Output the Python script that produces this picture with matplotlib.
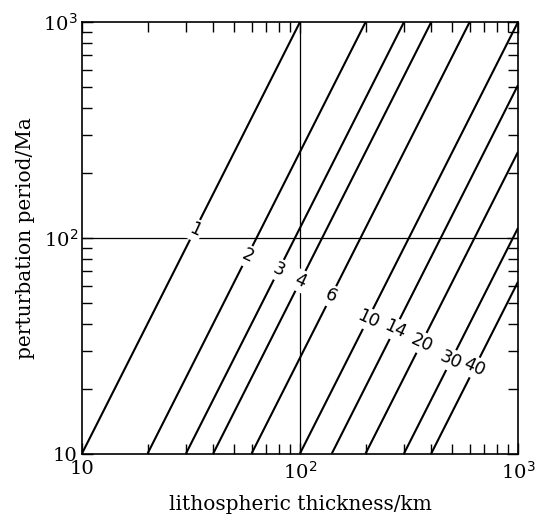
import matplotlib
matplotlib.use("Agg")
import matplotlib.pyplot as plt
import numpy as np

# curve labels
labels = ["1", "2", "3", "4", "6", "10", "14", "20", "30", "40"]
# start point of each line (lithospheric thickness at period 10 Ma)
x_start = [10, 20, 30, 40, 60, 100, 140, 200, 300, 400]
y_start = [10, 10, 10, 10, 10, 10, 10, 10, 10, 10]
# end point of each line (top or right edge)
x_end = [100, 200, 300, 400, 600, 1000, 1000, 1000, 1000, 1000]
y_end = [1000, 1000, 1000, 1000, 1000, 1000, 510, 250, 111, 62.5]
# x positions of labels along the curves
label_x = [33, 57.4, 80, 100.5, 139, 205, 272, 361, 494, 633]

xticks = [10, 100, 1000]
xticklabels = ["10", "10$^2$", "10$^3$"]
yticks = [10, 100, 1000]
yticklabels = ["10", "10$^2$", "10$^3$"]

fig = plt.figure(figsize=(5.38, 5.16), dpi=100)
ax = fig.add_axes([0.1524, 0.1211, 0.8104, 0.8362])
ax.set_xscale("log")
ax.set_yscale("log")
ax.set_xlim(10, 1000)
ax.set_ylim(10, 1000)

ax.axvline(100, color="black", lw=0.9, zorder=1)
ax.axhline(100, color="black", lw=0.9, zorder=1)

for lab, x0, y0, x1, y1, lx in zip(labels, x_start, y_start, x_end, y_end, label_x):
    ax.plot([x0, x1], [y0, y1], color="black", lw=1.5, zorder=2, solid_capstyle="butt")
    # position label on the line (log-linear interpolation)
    t = (np.log10(lx) - np.log10(x0)) / (np.log10(x1) - np.log10(x0))
    ly = 10 ** (np.log10(y0) + t * (np.log10(y1) - np.log10(y0)))
    ax.text(lx, ly, lab, fontsize=12.5, family="DejaVu Sans", rotation=-25,
            ha="center", va="center", zorder=5,
            bbox=dict(facecolor="white", edgecolor="none", pad=1.5))

ax.set_xticks(xticks)
ax.set_xticklabels(xticklabels, family="DejaVu Serif", fontsize=14)
ax.set_yticks(yticks)
ax.set_yticklabels(yticklabels, family="DejaVu Serif", fontsize=14)
ax.tick_params(which="both", direction="in", top=True, right=True)
ax.tick_params(which="major", length=8, width=1)
ax.tick_params(which="minor", length=7, width=1)
ax.tick_params(axis="x", which="major", pad=5)
ax.tick_params(axis="y", which="major", pad=3)
ax.yaxis.set_minor_formatter(matplotlib.ticker.NullFormatter())
ax.xaxis.set_minor_formatter(matplotlib.ticker.NullFormatter())
for s in ax.spines.values():
    s.set_linewidth(1.2)

ax.set_xlabel("lithospheric thickness/km", family="DejaVu Serif", fontsize=14.5, labelpad=9)
ax.set_ylabel("perturbation period/Ma", family="DejaVu Serif", fontsize=14.5, labelpad=6)

fig.savefig("out.png", dpi=100)
